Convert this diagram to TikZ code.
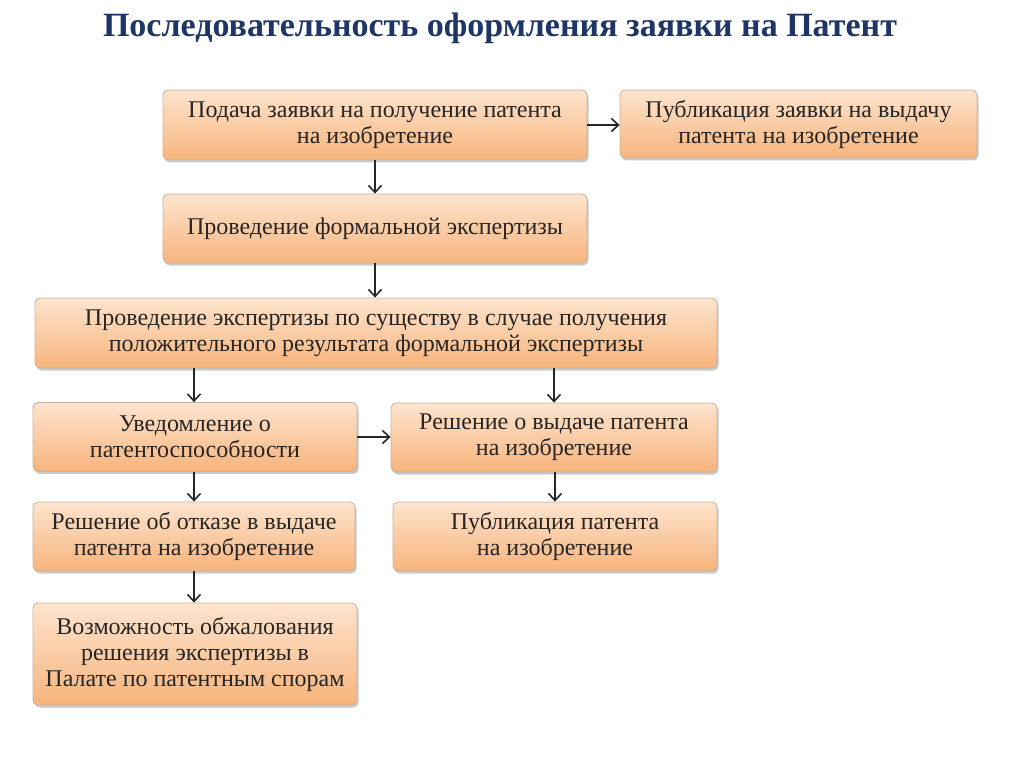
\documentclass[tikz,border=0pt]{standalone}
\usepackage{fontspec}
\setmainfont{Liberation Serif}
\usetikzlibrary{shadows,arrows.meta}
\definecolor{boxtop}{HTML}{FDE4CE}
\definecolor{boxbot}{HTML}{F7B47C}
\definecolor{boxline}{HTML}{C8B3A0}
\definecolor{titlecol}{HTML}{1F3566}
\tikzset{
  box/.style={rectangle, rounded corners=5pt, draw=boxline, line width=0.8pt,
    top color=boxtop, bottom color=boxbot, align=center, inner sep=2pt,
    font=\fontsize{24}{26}\selectfont, text=black!85,
    drop shadow={shadow xshift=1.5pt, shadow yshift=-2.5pt, opacity=0.35, fill=black!60}},
  arr/.style={-{Straight Barb[length=7pt,width=13pt,line width=1.6pt]}, line width=1.8pt, black!85}
}
\begin{document}
\begin{tikzpicture}[x=1pt,y=-1pt]
\useasboundingbox (0,0) rectangle (1024,767);
\node[font=\bfseries\fontsize{34}{38}\selectfont, text=titlecol] (title) at (500,28) {Последовательность оформления заявки на Патент};
\node[box, minimum width=424pt, minimum height=70pt] (b1) at (375,125) {Подача заявки на получение патента\\на изобретение};
\node[box, minimum width=357pt, minimum height=68pt] (b2) at (798.5,124) {Публикация заявки на выдачу\\патента на изобретение};
\node[box, minimum width=424pt, minimum height=69pt] (b3) at (375,228.5) {Проведение формальной экспертизы};
\node[box, minimum width=682pt, minimum height=70pt] (b4) at (376,333) {Проведение экспертизы по существу в случае получения\\положительного результата формальной экспертизы};
\node[box, minimum width=324pt, minimum height=69pt] (b5) at (195,437) {Уведомление о\\патентоспособности};
\node[box, minimum width=326pt, minimum height=69pt] (b6) at (554,437.5) {Решение о выдаче патента\\на изобретение};
\node[box, minimum width=322pt, minimum height=69pt] (b7) at (194,536.5) {Решение об отказе в выдаче\\патента на изобретение};
\node[box, minimum width=324pt, minimum height=69pt] (b8) at (555,536.5) {Публикация патента\\на изобретение};
\node[box, minimum width=324pt, minimum height=102pt] (b9) at (195,654) {Возможность обжалования\\решения экспертизы в\\Палате по патентным спорам};
\draw[arr] (b1.east) -- (b1.east -| b2.west);
\draw[arr] (b1.south) -- (b3.north);
\draw[arr] (b3.south) -- (b3.south |- b4.north);
\draw[arr] (b4.south -| b7.north) -- (b7.north |- b5.north);
\draw[arr] (b4.south -| b6.north) -- (b6.north);
\draw[arr] (b5.east) -- (b5.east -| b6.west);
\draw[arr] (b5.south -| b7.north) -- (b7.north);
\draw[arr] (b6.south -| b8.north) -- (b8.north);
\draw[arr] (b7.south) -- (b7.south |- b9.north);
\end{tikzpicture}
\end{document}
